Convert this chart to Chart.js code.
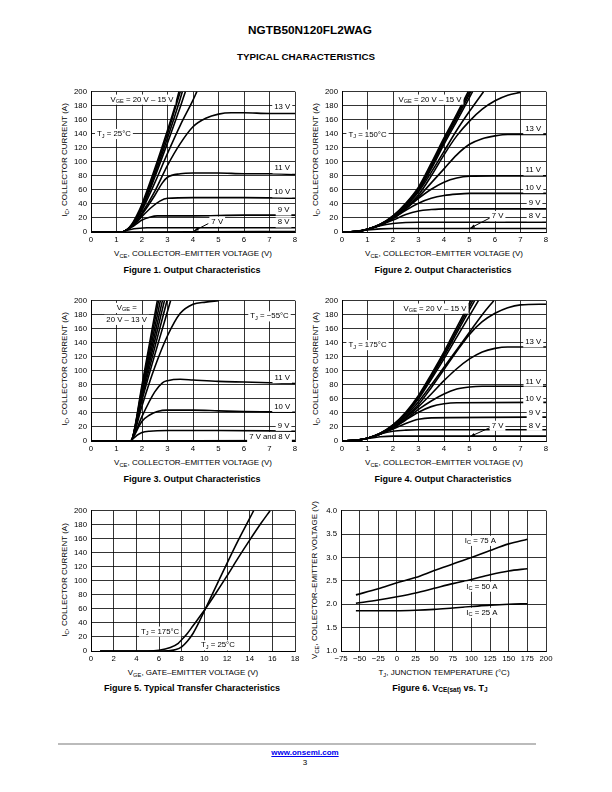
<!DOCTYPE html>
<html>
<head>
<meta charset="utf-8">
<script src="https://cdn.jsdelivr.net/npm/chart.js@4/dist/chart.umd.min.js"></script>
<style>
  body { margin: 0; width: 612px; height: 792px; background: #fff; position: relative;
         font-family: "Liberation Sans", Arial, sans-serif; color: #000; overflow: hidden; }
  .c { position: absolute; transform: translate(-50%, -50%); white-space: nowrap; line-height: 1; }
  .r { position: absolute; transform: translate(-50%, -50%) rotate(-90deg); white-space: nowrap; line-height: 1; }
  .ax { font-size: 8px; }
  .cap { font-size: 9px; font-weight: bold; }
  sub { font-size: 72%; vertical-align: -0.3em; line-height: 0; }
  canvas { position: absolute; }
</style>
</head>
<body>

<div class="c" style="left:310px;top:31px;font-size:11.8px;font-weight:bold">NGTB50N120FL2WAG</div>
<div class="c" style="left:306px;top:57px;font-size:9.8px;font-weight:bold">TYPICAL CHARACTERISTICS</div>

<!-- axis titles and captions -->
<div class="r ax" style="left:65px;top:160px">I<sub>C</sub>, COLLECTOR CURRENT (A)</div>
<div class="c ax" style="left:193px;top:254px">V<sub>CE</sub>, COLLECTOR–EMITTER VOLTAGE (V)</div>
<div class="c cap" style="left:192px;top:270px">Figure 1. Output Characteristics</div>

<div class="r ax" style="left:316px;top:160px">I<sub>C</sub>, COLLECTOR CURRENT (A)</div>
<div class="c ax" style="left:444px;top:254px">V<sub>CE</sub>, COLLECTOR–EMITTER VOLTAGE (V)</div>
<div class="c cap" style="left:443px;top:270px">Figure 2. Output Characteristics</div>

<div class="r ax" style="left:65px;top:369px">I<sub>C</sub>, COLLECTOR CURRENT (A)</div>
<div class="c ax" style="left:193px;top:463px">V<sub>CE</sub>, COLLECTOR–EMITTER VOLTAGE (V)</div>
<div class="c cap" style="left:192px;top:479px">Figure 3. Output Characteristics</div>

<div class="r ax" style="left:316px;top:369px">I<sub>C</sub>, COLLECTOR CURRENT (A)</div>
<div class="c ax" style="left:444px;top:463px">V<sub>CE</sub>, COLLECTOR–EMITTER VOLTAGE (V)</div>
<div class="c cap" style="left:443px;top:479px">Figure 4. Output Characteristics</div>

<div class="r ax" style="left:65px;top:580px">I<sub>C</sub>, COLLECTOR CURRENT (A)</div>
<div class="c ax" style="left:193px;top:673px">V<sub>GE</sub>, GATE–EMITTER VOLTAGE (V)</div>
<div class="c cap" style="left:192px;top:688px">Figure 5. Typical Transfer Characteristics</div>

<div class="r ax" style="left:315px;top:580px">V<sub>CE</sub>, COLLECTOR–EMITTER VOLTAGE (V)</div>
<div class="c ax" style="left:444px;top:673px">T<sub>J</sub>, JUNCTION TEMPERATURE (°C)</div>
<div class="c cap" style="left:440px;top:688px">Figure 6. V<sub>CE(sat)</sub> vs. T<sub>J</sub></div>

<div style="position:absolute;left:58px;top:743px;width:478px;height:2px;background:#bbb"></div>
<div class="c" style="left:305px;top:753px;font-size:8px;font-weight:bold;color:#00e;text-decoration:underline">www.onsemi.com</div>
<div class="c" style="left:305px;top:763px;font-size:8px">3</div>

<script>
// ---------- Figure 1: output characteristics, TJ = 25 C ----------
const f1Vge20 = [[0,0],[1.2,0],[1.4,3],[1.6,11],[1.8,24],[2.0,40],[2.5,90],[3.0,145],[3.3,180],[3.45,200]];
const f1Vge19 = [[0,0],[1.2,0],[1.4,3],[1.6,10],[1.8,22],[2.0,37],[2.5,86],[3.0,140],[3.3,176],[3.5,200]];
const f1Vge17 = [[0,0],[1.2,0],[1.4,3],[1.6,10],[1.8,21],[2.0,35],[2.5,82],[3.0,134],[3.5,190],[3.58,200]];
const f1Vge16 = [[0,0],[1.2,0],[1.4,3],[1.6,9],[1.8,20],[2.0,33],[2.5,78],[3.0,127],[3.5,178],[3.7,200]];
const f1Vge15 = [[0,0],[1.2,0],[1.4,3],[1.6,9],[1.8,19],[2.0,31],[2.5,70],[3.0,112],[3.5,152],[4.0,188],[4.15,200]];
const f1Vge13 = [[0,0],[1.2,0],[1.4,3],[1.6,9],[1.8,17],[2.0,27],[2.5,58],[3.0,95],[3.5,126],[4.0,150],[4.5,162],[5.0,168],[5.5,170],[6,170],[7,169],[8,169]];
const f1Vge11 = [[0,0],[1.2,0],[1.4,3],[1.6,8],[1.8,16],[2.0,25],[2.5,52],[2.8,70],[3.0,78],[3.5,83],[4.0,84],[5,84],[6,83],[7,83],[8,82]];
const f1Vge10 = [[0,0],[1.2,0],[1.4,3],[1.6,8],[1.8,14],[2.0,22],[2.4,36],[2.7,44],[3.0,48],[4,49],[6,49],[8,48]];
const f1Vge9  = [[0,0],[1.2,0],[1.4,3],[1.6,7],[1.8,12],[2.0,17],[2.3,21],[2.6,23],[4,23],[6,24],[8,24]];
const f1Vge8  = [[0,0],[1.2,0],[1.4,2],[1.6,4],[1.8,5],[2.2,6],[5,6],[8,6]];
const f1Vge7  = [[0,0],[4,0.3],[8,0.8]];

// ---------- Figure 2: TJ = 150 C ----------
const f2Vge20 = [[0,0],[0.5,0.5],[1,4],[1.5,11],[2,23],[2.5,41],[3,64],[3.5,98],[4,134],[4.5,168],[4.95,200]];
const f2Vge19 = [[0,0],[0.5,0.5],[1,4],[1.5,11],[2,23],[2.5,40],[3,62],[3.5,95],[4,131],[4.5,165],[5.0,200]];
const f2Vge18 = [[0,0],[0.5,0.5],[1,4],[1.5,11],[2,22],[2.5,39],[3,60],[3.5,92],[4,128],[4.5,162],[5.05,200]];
const f2Vge17 = [[0,0],[0.5,0.5],[1,4],[1.5,10],[2,22],[2.5,38],[3,59],[3.5,90],[4,125],[4.5,158],[5.12,200]];
const f2Vge16 = [[0,0],[0.5,0.5],[1,4],[1.5,10],[2,21],[2.5,37],[3,57],[3.5,85],[4,115],[4.5,145],[5,172],[5.55,200]];
const f2Vge15 = [[0,0],[0.5,0.5],[1,4],[1.5,10],[2,21],[2.5,35],[3,53],[3.5,80],[4,110],[4.5,137],[5,158],[5.5,175],[6,187],[6.5,195],[7,199]];
const f2Vge13 = [[0,0],[0.5,0.5],[1,4],[1.5,10],[2,20],[2.5,33],[3,50],[3.5,70],[4,90],[4.5,110],[5,125],[5.5,133],[6,137],[6.5,139],[7,139],[8,139]];
const f2Vge11 = [[0,0],[0.5,0.5],[1,4],[1.5,10],[2,19],[2.5,33],[3,48],[3.5,61],[4,71],[4.5,77],[5,79.5],[6,80],[8,80]];
const f2Vge10 = [[0,0],[0.5,0.5],[1,4],[1.5,10],[2,19],[2.5,31],[3,41],[3.5,48],[4,52],[4.5,54],[5,55],[8,55]];
const f2Vge9  = [[0,0],[0.5,0.5],[1,4],[1.5,10],[2,17],[2.5,25],[3,30],[3.5,32],[4,33],[8,33]];
const f2Vge8  = [[0,0],[0.5,0.5],[1,4],[1.5,9],[2,12],[2.5,13.5],[3,14],[8,14]];
const f2Vge7  = [[0,0],[0.5,0.5],[1,3],[1.5,4.5],[2,5],[8,5]];

// ---------- Figure 3: TJ = -55 C ----------
const f3Vge20 = [[0,0],[1.55,0],[1.62,3],[2.0,80],[2.6,200]];
const f3Vge19 = [[0,0],[1.55,0],[1.62,3],[2.0,76],[2.65,200]];
const f3Vge18 = [[0,0],[1.55,0],[1.62,3],[2.0,73],[2.72,200]];
const f3Vge17 = [[0,0],[1.55,0],[1.62,3],[2.0,70],[2.8,200]];
const f3Vge16 = [[0,0],[1.55,0],[1.62,3],[2.0,66],[2.88,200]];
const f3Vge15 = [[0,0],[1.55,0],[1.62,3],[2.0,62],[2.98,200]];
const f3Vge13 = [[0,0],[1.55,0],[1.62,3],[2.0,58],[3.12,200]];
const f3Vge12 = [[0,0],[1.55,0],[1.62,3],[2.0,50],[2.5,105],[3.0,150],[3.5,182],[4.0,195],[4.5,198],[5.0,200]];
const f3Vge11 = [[0,0],[1.55,0],[1.62,3],[2.0,35],[2.5,70],[2.8,83],[3.0,86],[3.5,88],[4,87],[5,85],[6,84],[7,83],[8,82]];
const f3Vge10 = [[0,0],[1.55,0],[1.62,3],[2.0,28],[2.3,37],[2.6,42],[3,44],[4,44],[5,43],[6,42],[7,41.5],[8,41]];
const f3Vge9  = [[0,0],[1.55,0],[1.62,2],[1.8,8],[2.0,12],[2.3,14],[3,15],[5,15],[8,14]];
const f3Vge8  = [[0,0],[8,0.6]];
const f3Vge7  = [[0,0],[8,0.2]];

// ---------- Figure 4: TJ = 175 C ----------
const f4Vge20 = [[0,0],[0.5,1],[1,4],[1.5,11],[2,23],[2.5,41],[3,65],[3.5,95],[4,127],[4.5,162],[5.05,200]];
const f4Vge19 = [[0,0],[0.5,1],[1,4],[1.5,11],[2,23],[2.5,40],[3,63],[3.5,93],[4,124],[4.5,158],[5.12,200]];
const f4Vge18 = [[0,0],[0.5,1],[1,4],[1.5,11],[2,22],[2.5,39],[3,62],[3.5,91],[4,121],[4.5,154],[5.2,200]];
const f4Vge17 = [[0,0],[0.5,1],[1,4],[1.5,10],[2,22],[2.5,38],[3,60],[3.5,88],[4,117],[4.5,148],[5.35,200]];
const f4Vge16 = [[0,0],[0.5,1],[1,4],[1.5,10],[2,21],[2.5,36],[3,56],[3.5,80],[4,105],[4.5,130],[5,155],[5.5,180],[5.95,200]];
const f4Vge15 = [[0,0],[0.5,1],[1,4],[1.5,10],[2,20],[2.5,34],[3,52],[3.5,76],[4,102],[4.5,128],[5,152],[5.5,170],[6,182],[6.5,190],[7,194],[8,195]];
const f4Vge13 = [[0,0],[0.5,1],[1,4],[1.5,10],[2,20],[2.5,33],[3,49],[3.5,67],[4,86],[4.5,103],[5,117],[5.5,127],[6,132],[6.5,134],[7,134],[8,134]];
const f4Vge11 = [[0,0],[0.5,1],[1,4],[1.5,10],[2,19],[2.5,31],[3,45],[3.5,57],[4,67],[4.5,74],[5,77],[5.5,78],[8,78]];
const f4Vge10 = [[0,0],[0.5,1],[1,4],[1.5,10],[2,18],[2.5,30],[3,41],[3.5,49],[4,53],[4.5,54.5],[8,55]];
const f4Vge9  = [[0,0],[0.5,1],[1,4],[1.5,10],[2,17],[2.5,25],[3,31],[3.5,33],[8,34]];
const f4Vge8  = [[0,0],[0.5,1],[1,4],[1.5,10],[2,14],[2.5,15.5],[3,16],[8,16]];
const f4Vge7  = [[0,0],[0.5,1],[1,3.5],[1.5,6],[2,7],[8,7]];

// ---------- Figure 5: transfer characteristics ----------
const f5Tj175 = [[0.8,0],[5,0],[6,1],[7,5],[7.7,11],[8,16],[8.5,25],[9,36],[10,58],[11,82],[12,107],[13,133],[14,158],[15,182],[15.8,200]];
const f5Tj25  = [[0.8,0],[6,0],[7,0.5],[7.5,2],[8,6],[8.5,14],[9,25],[9.5,40],[10,57],[11,91],[12,125],[13,158],[14,189],[14.35,200]];

// ---------- Figure 6: VCE(sat) vs TJ ----------
const f6Temp = [-55, -25, 0, 25, 50, 75, 100, 125, 150, 175];
const f6Ic75 = [2.20, 2.33, 2.46, 2.57, 2.72, 2.86, 3.00, 3.15, 3.29, 3.39];
const f6Ic50 = [2.02, 2.09, 2.16, 2.24, 2.34, 2.44, 2.53, 2.63, 2.71, 2.76];
const f6Ic25 = [1.86, 1.86, 1.86, 1.87, 1.89, 1.92, 1.95, 1.98, 2.00, 2.01];

const FONT = '"Liberation Sans", Arial, sans-serif';

function richParts(str) {
  const parts = [];
  const re = /_\{([^}]*)\}/g;
  let last = 0, m;
  while ((m = re.exec(str))) {
    if (m.index > last) parts.push({ t: str.slice(last, m.index), sub: false });
    parts.push({ t: m[1], sub: true });
    last = re.lastIndex;
  }
  if (last < str.length) parts.push({ t: str.slice(last), sub: false });
  return parts;
}

function drawRich(ctx, str, cx, cy, size) {
  const parts = richParts(str);
  let w = 0;
  parts.forEach(p => {
    ctx.font = (p.sub ? size * 0.72 : size) + 'px ' + FONT;
    p.w = ctx.measureText(p.t).width;
    w += p.w;
  });
  ctx.fillStyle = '#fff';
  ctx.fillRect(cx - w / 2 - 2, cy - size * 0.62, w + 4, size * 1.3);
  ctx.fillStyle = '#000';
  ctx.textBaseline = 'middle';
  ctx.textAlign = 'left';
  let x = cx - w / 2;
  parts.forEach(p => {
    ctx.font = (p.sub ? size * 0.72 : size) + 'px ' + FONT;
    ctx.fillText(p.t, x, p.sub ? cy + size * 0.28 : cy);
    x += p.w;
  });
}

function notesPlugin(notes, arrows) {
  return {
    id: 'notes',
    afterDatasetsDraw(chart) {
      const { ctx, scales: { x, y } } = chart;
      ctx.save();
      arrows.forEach(a => {
        const x1 = x.getPixelForValue(a[0]), y1 = y.getPixelForValue(a[1]);
        const x2 = x.getPixelForValue(a[2]), y2 = y.getPixelForValue(a[3]);
        ctx.strokeStyle = '#000';
        ctx.lineWidth = 1;
        ctx.beginPath(); ctx.moveTo(x1, y1); ctx.lineTo(x2, y2); ctx.stroke();
        const ang = Math.atan2(y2 - y1, x2 - x1);
        ctx.fillStyle = '#000';
        ctx.beginPath();
        ctx.moveTo(x2, y2);
        ctx.lineTo(x2 - 5 * Math.cos(ang - 0.35), y2 - 5 * Math.sin(ang - 0.35));
        ctx.lineTo(x2 - 5 * Math.cos(ang + 0.35), y2 - 5 * Math.sin(ang + 0.35));
        ctx.closePath(); ctx.fill();
      });
      notes.forEach(n => drawRich(ctx, n[2], x.getPixelForValue(n[0]), y.getPixelForValue(n[1]), 7.8));
      ctx.restore();
    }
  };
}

function makeChart(box, xs, ys, curves, notes, arrows) {
  const cv = document.createElement('canvas');
  const W = box.r - box.l + 30 + 10, H = box.b - box.t + 6 + 16;
  cv.width = W; cv.height = H;
  cv.style.left = (box.l - 30) + 'px';
  cv.style.top = (box.t - 6) + 'px';
  cv.style.width = W + 'px'; cv.style.height = H + 'px';
  document.body.appendChild(cv);
  const tickFont = { size: 7.8, family: FONT };
  const grid = { color: '#000', lineWidth: 0.8, drawTicks: false };
  new Chart(cv, {
    type: 'line',
    data: {
      datasets: curves.map(c => ({
        data: c.map(p => ({ x: p[0], y: p[1] })),
        borderColor: '#000', borderWidth: 1.6, pointRadius: 0, fill: false,
        cubicInterpolationMode: 'monotone', clip: 1
      }))
    },
    options: {
      responsive: false, animation: false, events: [],
      layout: { padding: { top: 6, right: 10, left: 0, bottom: 0 } },
      plugins: { legend: { display: false }, tooltip: { enabled: false } },
      scales: {
        x: {
          type: 'linear', min: xs.min, max: xs.max,
          ticks: { stepSize: xs.step, color: '#000', font: tickFont, padding: 3, maxRotation: 0, autoSkip: false,
                   callback: xs.fmt || (v => String(v)) },
          grid: grid, border: { color: '#000', width: 1 },
          afterFit: s => { s.height = 16; }
        },
        y: {
          type: 'linear', min: ys.min, max: ys.max,
          ticks: { stepSize: ys.step, color: '#000', font: tickFont, padding: 4, autoSkip: false,
                   callback: ys.fmt || (v => String(v)) },
          grid: grid, border: { color: '#000', width: 1 },
          afterFit: s => { s.width = 30; }
        }
      }
    },
    plugins: [notesPlugin(notes, arrows)]
  });
}

const vceAxis = { min: 0, max: 8, step: 1 };
const icAxis = { min: 0, max: 200, step: 20 };

makeChart({ l: 91, t: 89, r: 295, b: 232 }, vceAxis, icAxis,
  [f1Vge20, f1Vge19, f1Vge17, f1Vge16, f1Vge15, f1Vge13, f1Vge11, f1Vge10, f1Vge9, f1Vge8, f1Vge7],
  [[2.0, 189, 'V_{GE} = 20 V – 15 V'], [7.5, 179, '13 V'], [0.9, 140, 'T_{J} = 25°C'],
   [7.5, 91, '11 V'], [7.5, 57, '10 V'], [7.55, 31, '9 V'], [7.55, 14, '8 V'], [4.95, 15, '7 V']],
  [[4.6, 12, 4.04, 1.5]]);

makeChart({ l: 342, t: 89, r: 546, b: 232 }, vceAxis, icAxis,
  [f2Vge20, f2Vge19, f2Vge18, f2Vge17, f2Vge16, f2Vge15, f2Vge13, f2Vge11, f2Vge10, f2Vge9, f2Vge8, f2Vge7],
  [[3.45, 189, 'V_{GE} = 20 V – 15 V'], [7.5, 147, '13 V'], [1.0, 139, 'T_{J} = 150°C'],
   [7.5, 88, '11 V'], [7.5, 63, '10 V'], [7.55, 42, '9 V'], [7.55, 23, '8 V'], [6.1, 23, '7 V']],
  [[5.8, 20, 5.03, 5.5]]);

makeChart({ l: 91, t: 298, r: 295, b: 441 }, vceAxis, icAxis,
  [f3Vge20, f3Vge19, f3Vge18, f3Vge17, f3Vge16, f3Vge15, f3Vge13, f3Vge12, f3Vge11, f3Vge10, f3Vge9, f3Vge8, f3Vge7],
  [[1.4, 190, 'V_{GE} ='], [1.4, 173, '20 V – 13 V'], [7.0, 178, 'T_{J} = −55°C'],
   [7.5, 90, '11 V'], [7.5, 49, '10 V'], [7.55, 22, '9 V'], [7.0, 6, '7 V and 8 V']],
  []);

makeChart({ l: 342, t: 298, r: 546, b: 441 }, vceAxis, icAxis,
  [f4Vge20, f4Vge19, f4Vge18, f4Vge17, f4Vge16, f4Vge15, f4Vge13, f4Vge11, f4Vge10, f4Vge9, f4Vge8, f4Vge7],
  [[3.65, 189, 'V_{GE} = 20 V – 15 V'], [7.5, 141, '13 V'], [1.0, 137, 'T_{J} = 175°C'],
   [7.5, 85, '11 V'], [7.5, 60, '10 V'], [7.55, 40, '9 V'], [7.55, 22, '8 V'], [6.1, 22, '7 V']],
  [[5.8, 19, 5.03, 6.5]]);

makeChart({ l: 91, t: 508, r: 295, b: 651 }, { min: 0, max: 18, step: 2 }, icAxis,
  [f5Tj175, f5Tj25],
  [[6.1, 28, 'T_{J} = 175°C'], [11.2, 8.4, 'T_{J} = 25°C']],
  []);

makeChart({ l: 341, t: 508, r: 546, b: 651 },
  { min: -75, max: 200, step: 25, fmt: v => String(v).replace('-', '\u2212') },
  { min: 1, max: 4, step: 0.5, fmt: v => v.toFixed(1) },
  [f6Ic75, f6Ic50, f6Ic25].map(s => s.map((v, i) => [f6Temp[i], v])),
  [[112, 3.36, 'I_{C} = 75 A'], [114, 2.38, 'I_{C} = 50 A'], [114, 1.82, 'I_{C} = 25 A']],
  []);
</script>
</body>
</html>
